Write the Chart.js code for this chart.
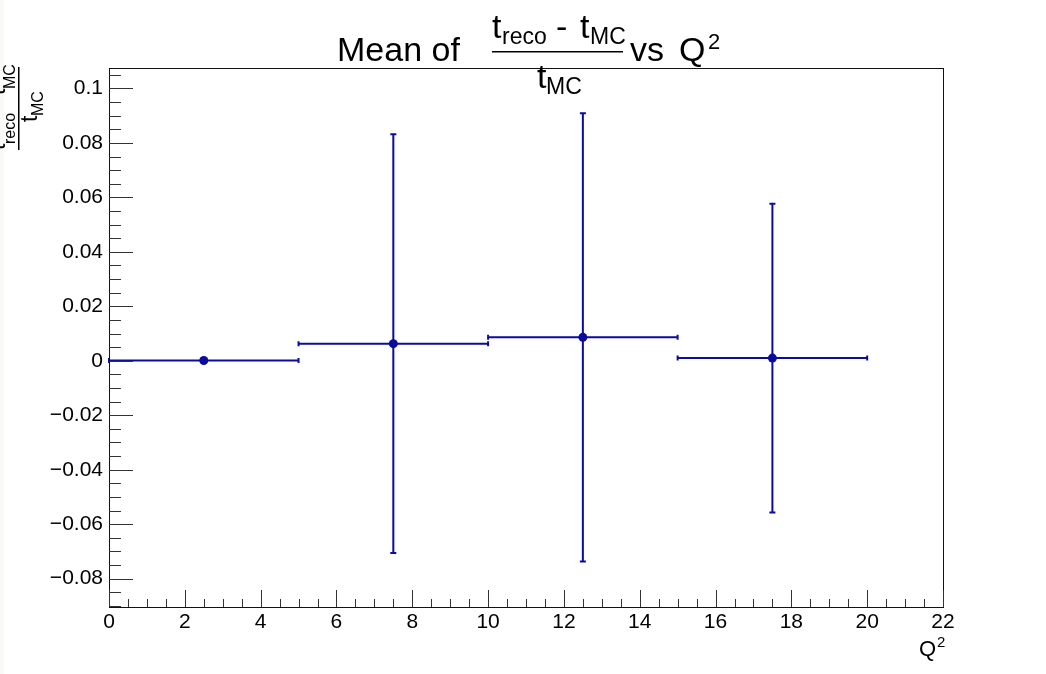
<!DOCTYPE html>
<html>
<head>
<meta charset="utf-8">
<script src="https://cdn.jsdelivr.net/npm/chart.js@4/dist/chart.umd.min.js"></script>
<style>
  html, body { margin: 0; padding: 0; background: #ffffff; }
  #wrap { position: relative; width: 1046px; height: 674px; }
  canvas { display: block; }
</style>
</head>
<body>
<div id="wrap"><canvas id="c" width="1046" height="674"></canvas></div>
<script>
// ---- data ----
const binLow   = [0, 5, 10, 15];
const binHigh  = [5, 10, 15, 20];
const xCenters = [2.5, 7.5, 12.5, 17.5];
const means    = [0.0001, 0.0063, 0.0086, 0.0010];
const errors   = [0.0, 0.0769, 0.0823, 0.0567];

const xTickValues = [0, 2, 4, 6, 8, 10, 12, 14, 16, 18, 20, 22];
const xTickLabels = ['0', '2', '4', '6', '8', '10', '12', '14', '16', '18', '20', '22'];
const yTickValues = [-0.08, -0.06, -0.04, -0.02, 0, 0.02, 0.04, 0.06, 0.08, 0.1];
const yTickLabels = ['\u22120.08', '\u22120.06', '\u22120.04', '\u22120.02', '0', '0.02', '0.04', '0.06', '0.08', '0.1'];

const X_MIN = 0, X_MAX = 22, Y_MIN = -0.0904, Y_MAX = 0.1075;
const FONT = '"Liberation Sans", Arial, Helvetica, sans-serif';
const COLOR = '#0c0c9c';

const rootPlugin = {
  id: 'rootStyle',
  beforeDraw(chart) {
    const c = chart.ctx;
    c.save();
    c.fillStyle = '#ffffff';
    c.fillRect(0, 0, chart.width, chart.height);
    c.fillStyle = '#fcfaf6';
    c.fillRect(0, 0, 4, chart.height);
    c.restore();
  },
  beforeDatasetsDraw(chart) {
    const c = chart.ctx;
    const xs = chart.scales.x, ys = chart.scales.y;
    c.save();
    c.strokeStyle = COLOR;
    c.lineWidth = 2;
    for (let i = 0; i < xCenters.length; i++) {
      const y = ys.getPixelForValue(means[i]);
      const xl = xs.getPixelForValue(binLow[i]);
      const xh = xs.getPixelForValue(binHigh[i]);
      const xc = xs.getPixelForValue(xCenters[i]);
      c.beginPath();
      c.moveTo(xl, y); c.lineTo(xh, y);
      c.moveTo(xl, y - 2.5); c.lineTo(xl, y + 2.5);
      c.moveTo(xh, y - 2.5); c.lineTo(xh, y + 2.5);
      c.stroke();
      if (errors[i] > 0) {
        const yt = ys.getPixelForValue(means[i] + errors[i]);
        const yb = ys.getPixelForValue(means[i] - errors[i]);
        c.beginPath();
        c.moveTo(xc, yt); c.lineTo(xc, yb);
        c.moveTo(xc - 3, yt); c.lineTo(xc + 3, yt);
        c.moveTo(xc - 3, yb); c.lineTo(xc + 3, yb);
        c.stroke();
      }
    }
    c.restore();
  },
  afterDraw(chart) {
    const c = chart.ctx;
    const a = chart.chartArea;
    const xs = chart.scales.x, ys = chart.scales.y;
    c.save();
    // frame
    c.strokeStyle = '#111';
    c.lineWidth = 1;
    c.strokeRect(Math.round(a.left) + 0.5, Math.round(a.top) + 0.5,
                 Math.round(a.right - a.left), Math.round(a.bottom - a.top));
    // ticks
    c.strokeStyle = '#333';
    c.beginPath();
    for (let v = -0.09; v <= Y_MAX + 1e-9; v += 0.005) {
      if (v < Y_MIN) continue;
      const p = Math.round(ys.getPixelForValue(v)) + 0.5;
      const major = Math.abs(Math.round(v / 0.02) * 0.02 - v) < 1e-6;
      c.moveTo(a.left, p); c.lineTo(a.left + (major ? 24 : 12), p);
    }
    for (let v = X_MIN; v <= X_MAX + 1e-9; v += 0.5) {
      const p = Math.round(xs.getPixelForValue(v)) + 0.5;
      const major = Math.abs(Math.round(v / 2) * 2 - v) < 1e-6;
      c.moveTo(p, a.bottom); c.lineTo(p, a.bottom - (major ? 17 : 8));
    }
    c.stroke();

    c.fillStyle = '#000';
    c.textBaseline = 'alphabetic';
    c.textAlign = 'left';
    const txt = (s, x, y, size) => { c.font = size + 'px ' + FONT; c.fillText(s, x, y); };

    // title
    txt('Mean of', 337, 61, 34);
    txt('t', 492, 38, 34);
    txt('reco', 502, 44, 23);
    txt('-', 556, 38, 34);
    txt('t', 580, 38, 34);
    txt('MC', 590, 44, 23);
    c.fillRect(492, 51, 131, 1.5);
    txt('t', 537, 88, 34);
    txt('MC', 546, 94, 23);
    txt('vs', 630, 61, 34);
    txt('Q', 679, 61, 34);
    txt('2', 708, 49, 22);

    // x axis title
    txt('Q', 919, 656, 22);
    txt('2', 937, 647, 15);

    // y axis title (rotated)
    c.save();
    c.rotate(-Math.PI / 2);
    const r = (s, sy, sx, size) => { c.font = size + 'px ' + FONT; c.fillText(s, -sy, sx); };
    r('t', 150, 5, 23);
    r('reco', 144, 15, 16);
    r('-', 109, 5, 23);
    r('t', 95, 5, 23);
    r('MC', 89, 15, 16);
    r('t', 122, 37, 23);
    r('MC', 116, 43, 16);
    c.restore();
    c.fillRect(18, 67, 1.5, 83);

    c.restore();
  }
};

new Chart(document.getElementById('c'), {
  type: 'scatter',
  data: {
    datasets: [{
      data: xCenters.map((x, i) => ({ x: x, y: means[i] })),
      backgroundColor: COLOR,
      borderColor: COLOR,
      pointRadius: 4.5,
      pointHoverRadius: 4.5,
      borderWidth: 0,
      showLine: false
    }]
  },
  options: {
    responsive: false,
    animation: false,
    devicePixelRatio: 1,
    layout: { padding: { top: 68, right: 103, left: 0, bottom: 0 } },
    plugins: { legend: { display: false }, tooltip: { enabled: false }, title: { display: false } },
    scales: {
      x: {
        type: 'linear', min: X_MIN, max: X_MAX,
        grid: { display: false, drawTicks: false },
        border: { display: false },
        ticks: {
          font: { family: FONT, size: 21 }, color: '#000', padding: 3,
          maxRotation: 0, autoSkip: false,
          callback: (v, i) => xTickLabels[i]
        },
        afterBuildTicks: s => { s.ticks = xTickValues.map(v => ({ value: v })); },
        afterFit: s => { s.height = 67; }
      },
      y: {
        type: 'linear', min: Y_MIN, max: Y_MAX,
        grid: { display: false, drawTicks: false },
        border: { display: false },
        ticks: {
          font: { family: FONT, size: 21 }, color: '#000', padding: 6,
          autoSkip: false,
          callback: (v, i) => yTickLabels[i]
        },
        afterBuildTicks: s => { s.ticks = yTickValues.map(v => ({ value: v })); },
        afterFit: s => { s.width = 109; }
      }
    }
  },
  plugins: [rootPlugin]
});
</script>
</body>
</html>
